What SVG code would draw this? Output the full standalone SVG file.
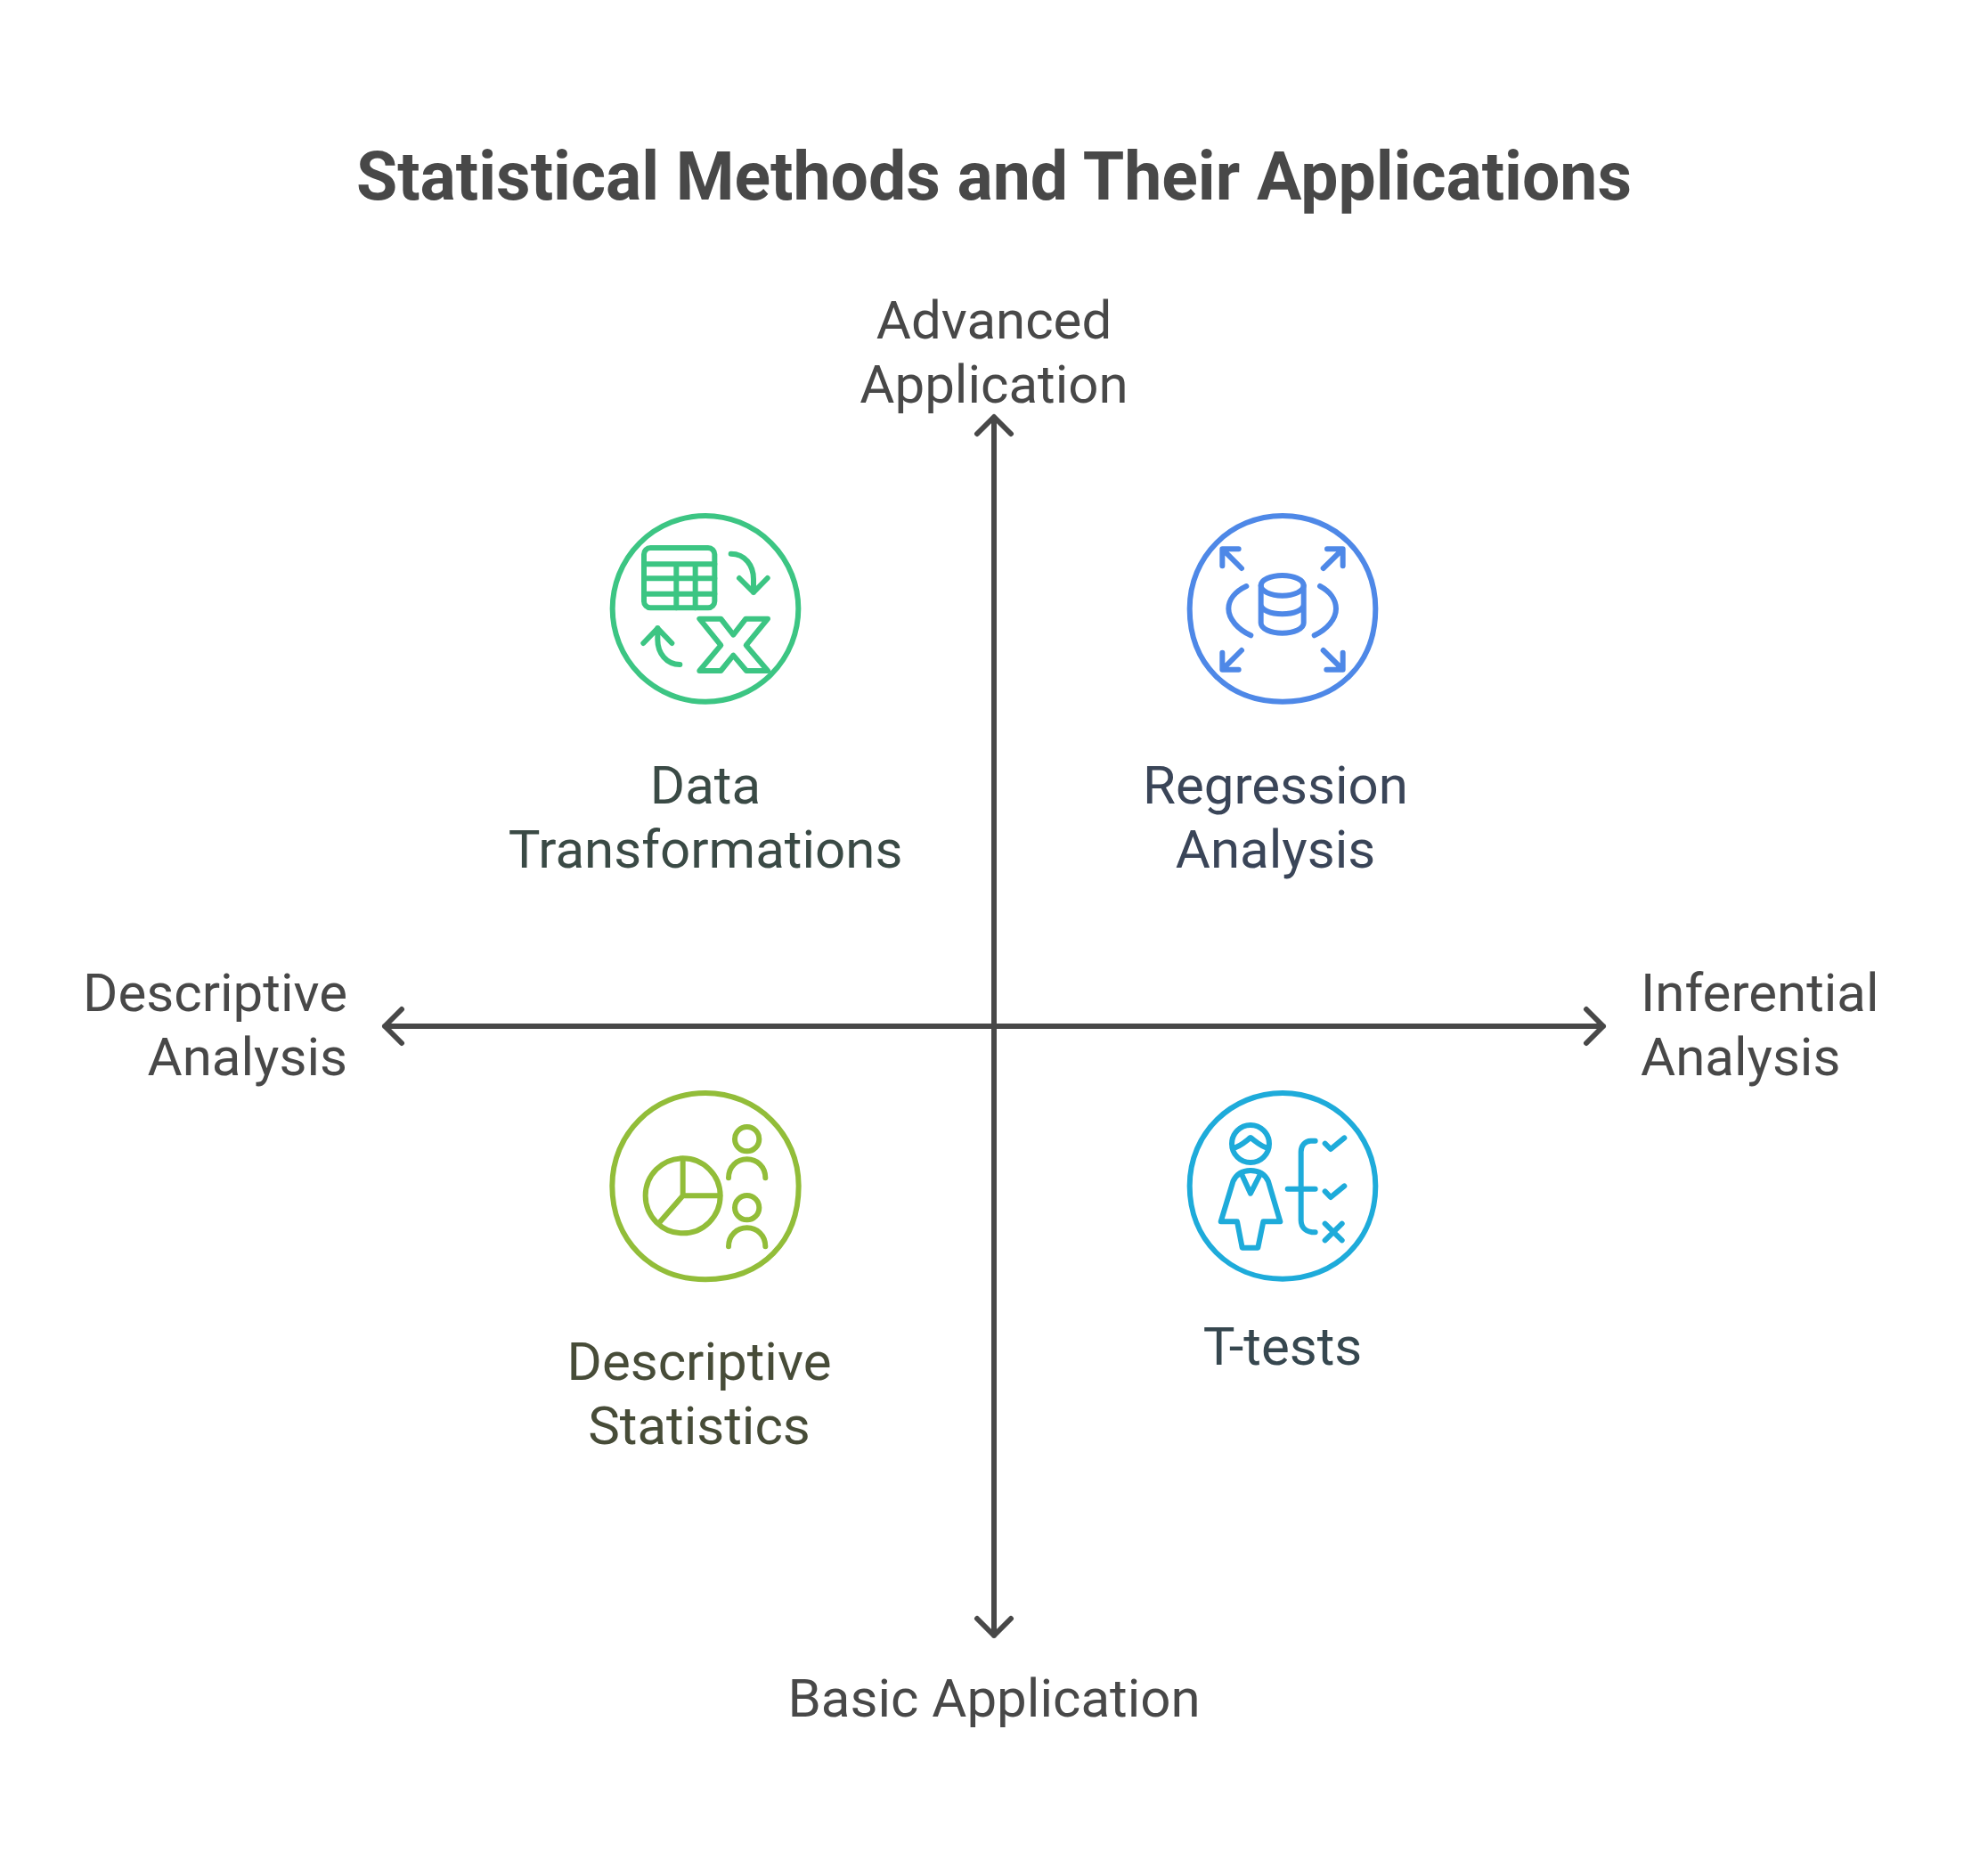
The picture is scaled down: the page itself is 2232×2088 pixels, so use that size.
<svg xmlns="http://www.w3.org/2000/svg" width="2232" height="2088" viewBox="0 0 2232 2088">
<style>
text{font-family:Roboto,"Liberation Sans",sans-serif;font-size:60px;fill:#484848}
.t{font-size:75.1px;font-weight:700;text-anchor:middle}
.m{text-anchor:middle}.e{text-anchor:end}
.i{fill:none;stroke-width:18;stroke-linecap:round;stroke-linejoin:round}
.ax{fill:none;stroke:#484848;stroke-width:6;stroke-linecap:round;stroke-linejoin:round}
</style>
<rect width="2232" height="2088" fill="#fff"/>
<text id="title" class="t" x="1116" y="224">Statistical Methods and Their Applications</text>
<g id="connectors" class="ax">
<path d="M1116 470V1836M1097 487L1116 468L1135 487M1097 1817L1116 1836L1135 1817"/>
<path d="M432 1152H1800M451 1133L432 1152L451 1171M1781 1133L1800 1152L1781 1171"/>
</g>
<g id="axis-top"><text class="m" x="1116" y="380">Advanced</text><text class="m" x="1116" y="452">Application</text></g>
<g id="axis-bottom"><text class="m" x="1116" y="1927">Basic Application</text></g>
<g id="axis-left"><text class="e" x="390" y="1135">Descriptive</text><text class="e" x="390" y="1207">Analysis</text></g>
<g id="axis-right"><text x="1842" y="1135">Inferential</text><text x="1842" y="1207">Analysis</text></g>
<g id="node-data">
<g class="i" stroke="#3cc583" transform="translate(670 570) scale(.33333)">
<circle cx="366" cy="340" r="313"/>
<rect x="159" y="135" width="238" height="202" rx="22"/>
<path d="M159 190H397M159 238H397M159 290H397M268 190V337M332 190V337"/>
<path d="M452 155C500 155 528 195 528 240V285M480 237L528 285L575 237"/>
<path d="M280 528C235 528 205 490 205 445V405M157 456L205 406L253 456"/>
<path d="M346 374H418L460 428L502 374H576L503 463L576 549H504L460 497L418 549H346L418 463Z"/>
</g>
<text class="m" x="792" y="902" style="fill:#3a4a45">Data</text><text class="m" x="792" y="974" style="fill:#3a4a45">Transformations</text>
</g>
<g id="node-regression">
<g class="i" stroke="#4e88e7" transform="translate(1320 570) scale(.33333)">
<path d="M360 27C535 27 673 160 673 340C673 530 540 653 360 653C175 653 47 525 47 340C47 165 185 27 360 27Z"/>
<path d="M222 204L158 140M157 196V139H212M497 204L562 140M510 139H563V196M222 480L158 544M157 488V545H212M497 480L562 544M563 488V545H508"/>
<ellipse cx="359" cy="262" rx="72" ry="34"/>
<path d="M287 262V388C287 408 320 422 359 422C398 422 431 408 431 388V262M287 325C287 345 320 358 359 358C398 358 431 345 431 325"/>
<path d="M238 264C200 282 178 310 178 340C178 375 210 410 253 430M486 264C520 282 540 310 540 340C540 375 510 410 467 430"/>
</g>
<text class="m" x="1432" y="902" style="fill:#3a4558">Regression</text><text class="m" x="1432" y="974" style="fill:#3a4558">Analysis</text>
</g>
<g id="node-descriptive">
<g class="i" stroke="#92bd39" transform="translate(670 1218) scale(.33333)">
<path d="M366 27C540 27 680 165 680 340C680 525 558 655 366 655C182 655 52 520 52 340C52 165 190 27 366 27Z"/>
<circle cx="290" cy="373" r="126"/>
<path d="M290 248V373H415M290 373L212 462"/>
<circle cx="506" cy="182" r="41"/>
<path d="M444 313C444 275 472 250 506 250C540 250 568 275 568 313"/>
<circle cx="506" cy="413" r="41"/>
<path d="M444 544C444 506 472 481 506 481C540 481 568 506 568 544"/>
</g>
<text class="m" x="785" y="1549" style="fill:#474c38">Descriptive</text><text class="m" x="785" y="1621" style="fill:#474c38">Statistics</text>
</g>
<g id="node-ttests">
<g class="i" stroke="#1eabda" transform="translate(1320 1218) scale(.33333)">
<path d="M360 27C530 27 673 165 673 340C673 525 535 653 360 653C180 653 47 520 47 340C47 160 190 27 360 27Z"/>
<circle cx="252" cy="198" r="63"/>
<path d="M192 212C215 210 235 190 252 177C270 190 290 210 312 212"/>
<path d="M152 460L193 325C205 298 225 288 252 288C280 288 300 298 312 325L352 460H295L277 548H224L207 460Z"/>
<path d="M222 300L252 365L285 300"/>
<path d="M470 188H455C435 188 422 205 422 225V455C422 480 440 496 470 496M377 350H470"/>
<path d="M503 197L522 216L568 178M503 358L522 378L568 340M503 467L560 523M560 467L503 523"/>
</g>
<text class="m" x="1440" y="1532" style="fill:#36474f">T-tests</text>
</g>
</svg>
